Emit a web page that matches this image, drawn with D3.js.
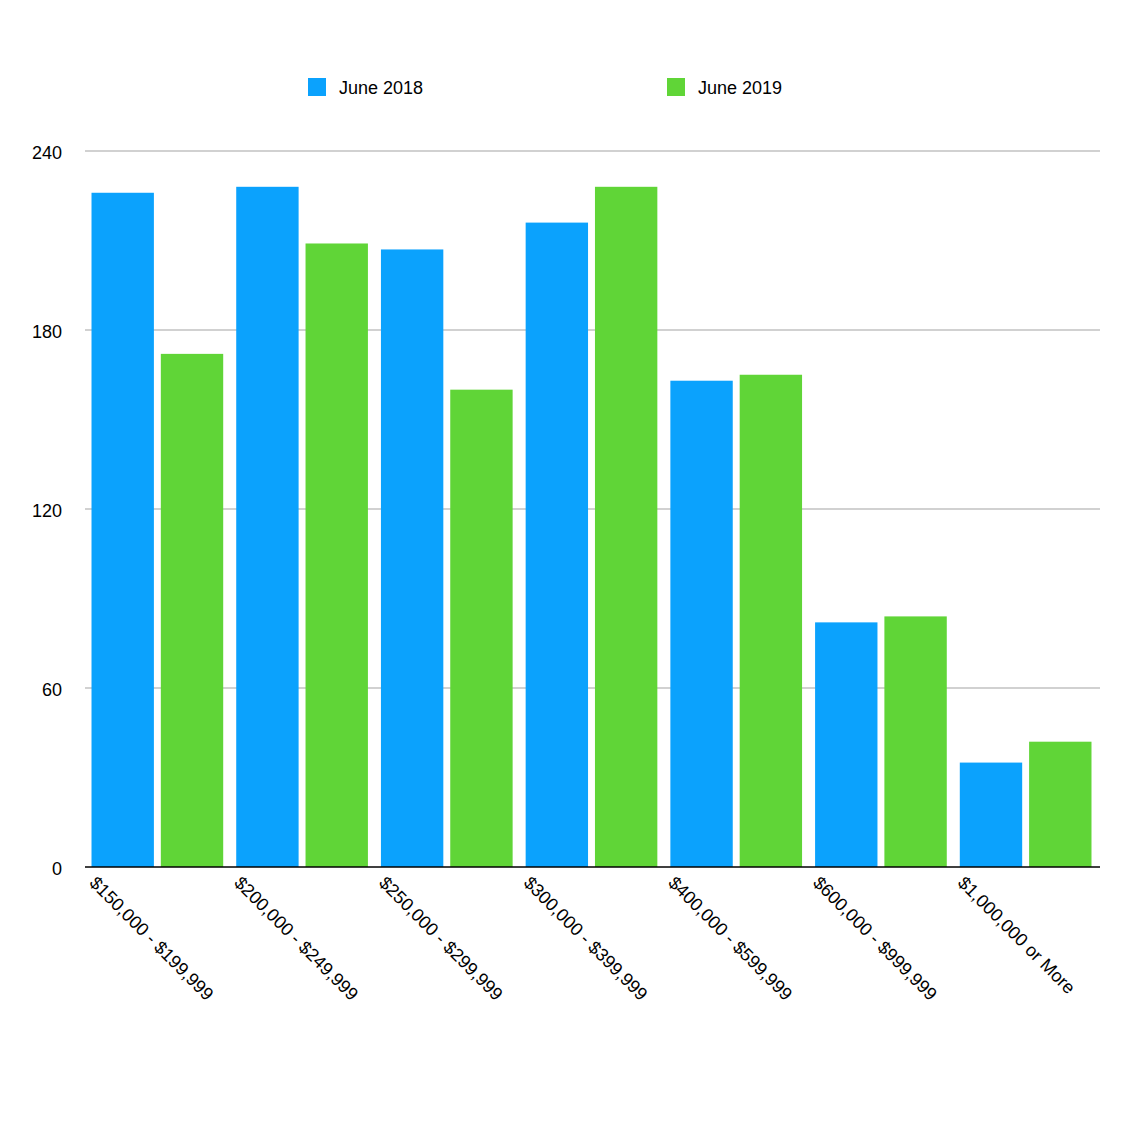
<!DOCTYPE html>
<html><head><meta charset="utf-8">
<script src="https://cdn.jsdelivr.net/npm/d3@7"></script>
<style>body{margin:0;background:#fff}</style>
</head><body>
<svg id="c" width="1145" height="1145"></svg>
<script>
const categories = ["$150,000 - $199,999","$200,000 - $249,999","$250,000 - $299,999","$300,000 - $399,999","$400,000 - $599,999","$600,000 - $999,999","$1,000,000 or More"];
const seriesNames = ["June 2018","June 2019"];
const june2018 = [226,228,207,216,163,82,35];
const june2019 = [172,209,160,228,165,84,42];
const yTicks = [0,60,120,180,240];
const colors = ["#0ba2fd","#60d537"];

const svg = d3.select("#c");
const font = "Liberation Sans, Arial, sans-serif";
const x = d3.scaleBand().domain(categories).range([85,1098]).paddingInner(0.09).paddingOuter(0.045);
const y = d3.scaleLinear().domain([0,240]).range([867,151]);
const x1 = d3.scaleBand().domain(seriesNames).range([0,x.bandwidth()]).paddingInner(0.1);

svg.append("g").selectAll("line").data(yTicks.filter(d=>d>0)).join("line")
  .attr("x1",85).attr("x2",1100).attr("y1",d=>y(d)).attr("y2",d=>y(d))
  .attr("stroke","#c2c2c2").attr("stroke-width",1.5);
svg.append("g").selectAll("text").data(yTicks).join("text")
  .attr("x",62).attr("y",d=>y(d)+8).attr("text-anchor","end")
  .attr("font-family",font).attr("font-size",18).text(d=>d);

const data = [june2018, june2019];
data.forEach((vals,si)=>{
  svg.append("g").selectAll("rect").data(vals).join("rect")
    .attr("x",(d,i)=>x(categories[i])+x1(seriesNames[si]))
    .attr("width",x1.bandwidth())
    .attr("y",d=>y(d)).attr("height",d=>y(0)-y(d))
    .attr("fill",colors[si]);
});
svg.append("line").attr("x1",85).attr("x2",1100).attr("y1",y(0)).attr("y2",y(0))
  .attr("stroke","#000").attr("stroke-width",1.5);

svg.append("g").selectAll("text").data(categories).join("text")
  .attr("transform",d=>`translate(${x(d)-3},${884}) rotate(45)`)
  .attr("font-family",font).attr("font-size",18).text(d=>d);

const lx = [308,667];
seriesNames.forEach((s,i)=>{
  svg.append("rect").attr("x",lx[i]).attr("y",78).attr("width",18).attr("height",18).attr("fill",colors[i]);
  svg.append("text").attr("x",lx[i]+31).attr("y",94).attr("font-family",font).attr("font-size",18).text(s);
});
</script>
</body></html>
